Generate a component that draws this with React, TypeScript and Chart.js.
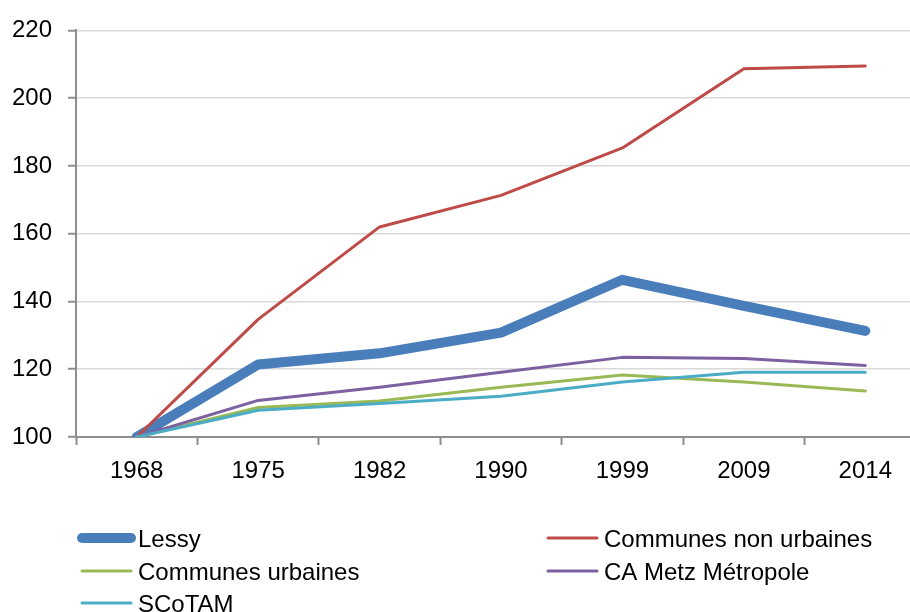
import React, { useEffect, useRef } from "react";
import { Chart, registerables } from "chart.js";

Chart.register(...registerables);

const categories = ["1968", "1975", "1982", "1990", "1999", "2009", "2014"];
const seriesNames = [
  "Lessy",
  "Communes non urbaines",
  "Communes urbaines",
  "CA Metz Métropole",
  "SCoTAM",
];
const lessy = [100, 121.4, 124.7, 130.8, 146.4, 138.7, 131.3];
const nonUrbaines = [100, 134.7, 162.0, 171.3, 185.3, 208.7, 209.5];
const urbaines = [100, 108.7, 110.6, 114.7, 118.3, 116.2, 113.6];
const metz = [100, 110.8, 114.7, 119.1, 123.5, 123.2, 121.1];
const scotam = [100, 107.9, 109.9, 112.0, 116.2, 119.1, 119.1];
const yMin = 100;
const yMax = 220;
const yStep = 20;

const colors = ["#4A7EBB", "#BE4B48", "#98B954", "#7D60A0", "#4BACC6"];
const widths = [10, 3, 3, 3, 3];
const FONT = "'Liberation Sans', Arial, sans-serif";

const legendPlugin = {
  id: "customLegend",
  afterDraw(chart: any) {
    const ctx = chart.ctx;
    const cols = [
      { lineX0: 82, lineX1: 131, textX: 138 },
      { lineX0: 548, lineX1: 597, textX: 604 },
    ];
    const rows = [538, 571, 603];
    ctx.save();
    chart.data.datasets.forEach((ds: any, i: number) => {
      const c = cols[i % 2];
      const y = rows[Math.floor(i / 2)];
      ctx.strokeStyle = ds.borderColor;
      ctx.lineWidth = ds.borderWidth;
      ctx.lineCap = "round";
      ctx.beginPath();
      ctx.moveTo(c.lineX0, y);
      ctx.lineTo(c.lineX1, y);
      ctx.stroke();
      ctx.fillStyle = "#000";
      ctx.font = `24px ${FONT}`;
      ctx.textBaseline = "middle";
      ctx.textAlign = "left";
      ctx.fillText(ds.label, c.textX, y + 2);
    });
    ctx.restore();
  },
};

export default function App() {
  const ref = useRef<HTMLCanvasElement | null>(null);

  useEffect(() => {
    if (!ref.current) return;
    const values = [lessy, nonUrbaines, urbaines, metz, scotam];
    const chart = new Chart(ref.current, {
      type: "line",
      data: {
        labels: categories,
        datasets: values.map((v, i) => ({
          label: seriesNames[i],
          data: v,
          borderColor: colors[i],
          backgroundColor: colors[i],
          borderWidth: widths[i],
          pointRadius: 0,
          pointHoverRadius: 0,
          tension: 0,
          fill: false,
          borderCapStyle: "round",
          borderJoinStyle: "round",
          order: 5 - i,
        })),
      },
      options: {
        responsive: false,
        animation: false,
        devicePixelRatio: 1,
        layout: { padding: { top: 27, bottom: 125, left: 0, right: 0 } },
        plugins: {
          legend: { display: false },
          tooltip: { enabled: false },
        },
        scales: {
          x: {
            offset: true,
            grid: {
              offset: true,
              drawOnChartArea: false,
              drawTicks: true,
              tickLength: 8,
              tickColor: "#8E8E8E",
              tickWidth: 2,
            },
            border: { color: "#8E8E8E", width: 2 },
            ticks: {
              color: "#000",
              font: { family: FONT, size: 24 },
              padding: 12,
              maxRotation: 0,
              autoSkip: false,
            },
            afterFit(scale: any) {
              scale.height = 50;
            },
          },
          y: {
            min: yMin,
            max: yMax,
            grid: {
              color: "#D9D9D9",
              lineWidth: 1.5,
              tickLength: 8,
              tickColor: "#8E8E8E",
              tickWidth: 2,
            },
            border: { color: "#8E8E8E", width: 2 },
            ticks: {
              stepSize: yStep,
              color: "#000",
              font: { family: FONT, size: 24 },
              padding: 16,
            },
            afterFit(scale: any) {
              scale.width = 76;
            },
          },
        },
      },
      plugins: [legendPlugin],
    });
    return () => chart.destroy();
  }, []);

  return (
    <div
      style={{
        position: "fixed",
        left: 0,
        top: 0,
        width: 910,
        height: 612,
        overflow: "hidden",
        background: "#fff",
      }}
    >
      <canvas ref={ref} width={926} height={612} style={{ width: 926, height: 612, display: "block" }} />
    </div>
  );
}
